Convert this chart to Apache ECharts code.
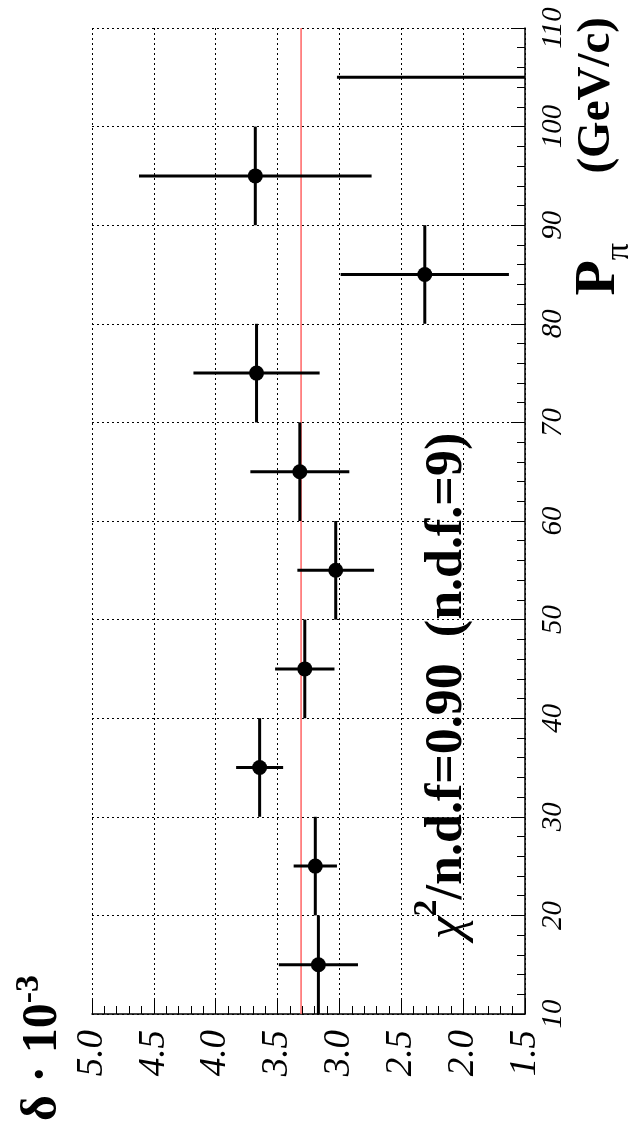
<!DOCTYPE html>
<html><head><meta charset="utf-8">
<script src="https://cdn.jsdelivr.net/npm/echarts@6/dist/echarts.min.js"></script>
<style>html,body{margin:0;padding:0;background:#fff}#c{width:636px;height:1144px}</style>
</head><body><div id="c"></div>
<script>
// P_pi bin centres (GeV/c) and half widths
const momentum = [15, 25, 35, 45, 55, 65, 75, 85, 95, 105];
const binHalfWidth = [5, 5, 5, 5, 5, 5, 5, 5, 5, 5];
// delta * 10^-3 values and errors
const delta = [3.17, 3.195, 3.645, 3.28, 3.03, 3.32, 3.67, 2.31, 3.68, 1.2];
const deltaErr = [0.32, 0.175, 0.19, 0.24, 0.31, 0.40, 0.51, 0.68, 0.94, 1.82];
const fitValue = 3.31;
const deltaRange = [1.5, 5.0];
const momentumRange = [10, 110];

const serif = 'Liberation Serif';
const chart = echarts.init(document.getElementById('c'));

const points = momentum.map((p, i) => [delta[i], p, deltaErr[i], binHalfWidth[i]]);

chart.setOption({
  animation: false,
  backgroundColor: '#fff',
  grid: { left: 92, right: 111, top: 28, bottom: 130 },
  xAxis: {
    type: 'value', min: deltaRange[0], max: deltaRange[1], interval: 0.5, inverse: true,
    position: 'bottom',
    axisLine: { show: true, lineStyle: { color: '#000', width: 1.5 } },
    axisTick: { show: true, inside: true, length: 14, lineStyle: { color: '#000', width: 1 } },
    minorTick: { show: true, splitNumber: 5, length: 8, lineStyle: { color: '#000', width: 1 } },
    axisLabel: { rotate: 90, margin: 16, formatter: v => v.toFixed(1), fontFamily: serif, fontStyle: 'italic', fontSize: 37, color: '#000' },
    splitLine: { show: true, lineStyle: { type: [2, 3], color: '#000', width: 1 } }
  },
  yAxis: {
    type: 'value', min: momentumRange[0], max: momentumRange[1], interval: 10,
    position: 'right',
    axisLine: { show: true, lineStyle: { color: '#000', width: 1.5 } },
    axisTick: { show: true, inside: true, length: 14, lineStyle: { color: '#000', width: 1 } },
    minorTick: { show: true, splitNumber: 5, length: 8, lineStyle: { color: '#000', width: 1 } },
    axisLabel: { rotate: 90, margin: 14, fontFamily: serif, fontStyle: 'italic', fontSize: 29, color: '#000' },
    splitLine: { show: true, lineStyle: { type: [2, 3], color: '#000', width: 1 } }
  },
  series: [
    {
      type: 'line', data: [[fitValue, momentumRange[0]], [fitValue, momentumRange[1]]],
      symbol: 'none', lineStyle: { color: '#ff6464', width: 1.5 }, z: 2, silent: true
    },
    {
      type: 'custom', data: points, clip: true, z: 3,
      encode: { x: 0, y: 1 },
      renderItem(params, api) {
        const d = api.value(0), p = api.value(1), e = api.value(2), w = api.value(3);
        const children = [];
        const lo = Math.max(d - e, deltaRange[0]), hi = Math.min(d + e, deltaRange[1]);
        if (hi > lo) {
          const a = api.coord([lo, p]), b = api.coord([hi, p]);
          children.push({ type: 'line', shape: { x1: a[0], y1: a[1], x2: b[0], y2: b[1] }, style: { stroke: '#000', lineWidth: 3 } });
        }
        if (d >= deltaRange[0] && d <= deltaRange[1]) {
          const c1 = api.coord([d, p - w]), c2 = api.coord([d, p + w]), c = api.coord([d, p]);
          children.push({ type: 'line', shape: { x1: c1[0], y1: c1[1], x2: c2[0], y2: c2[1] }, style: { stroke: '#000', lineWidth: 3 } });
          children.push({ type: 'circle', shape: { cx: c[0], cy: c[1], r: 7.5 }, style: { fill: '#000' } });
        }
        return { type: 'group', children };
      }
    }
  ],
  graphic: [
    {
      type: 'text', x: 40, y: 1048, rotation: Math.PI / 2,
      style: {
        text: '{b|δ · 10}{s|-3}', align: 'center', verticalAlign: 'middle',
        rich: {
          b: { fontFamily: serif, fontWeight: 'bold', fontSize: 50, fill: '#000', verticalAlign: 'bottom', lineHeight: 56 },
          s: { fontFamily: serif, fontWeight: 'bold', fontSize: 34, fill: '#000', verticalAlign: 'top', lineHeight: 56 }
        }
      }
    },
    {
      type: 'text', x: 603, y: 243, rotation: Math.PI / 2,
      style: {
        text: '{p|P}{sub|π}', align: 'right', verticalAlign: 'middle',
        rich: {
          p: { fontFamily: serif, fontWeight: 'bold', fontSize: 58, fill: '#000', verticalAlign: 'top', lineHeight: 66 },
          sub: { fontFamily: serif, fontSize: 34, fill: '#000', verticalAlign: 'bottom', lineHeight: 66 }
        }
      }
    },
    {
      type: 'text', x: 597, y: 17, rotation: Math.PI / 2,
      style: {
        text: '(GeV/c)', align: 'right', verticalAlign: 'middle',
        fontFamily: serif, fontWeight: 'bold', fontSize: 47, fill: '#000'
      }
    },
    {
      type: 'text', x: 442, y: 686, rotation: Math.PI / 2,
      style: {
        text: '{g|χ}{s|2}{b|/n.d.f=0.90  (n.d.f.=9)}', align: 'center', verticalAlign: 'middle',
        rich: {
          g: { fontFamily: serif, fontStyle: 'italic', fontSize: 52, fill: '#000', verticalAlign: 'bottom', lineHeight: 64 },
          s: { fontFamily: serif, fontWeight: 'bold', fontSize: 34, fill: '#000', verticalAlign: 'top', lineHeight: 64 },
          b: { fontFamily: serif, fontWeight: 'bold', fontSize: 52, fill: '#000', verticalAlign: 'bottom', lineHeight: 64 }
        }
      }
    }
  ]
});
</script></body></html>
